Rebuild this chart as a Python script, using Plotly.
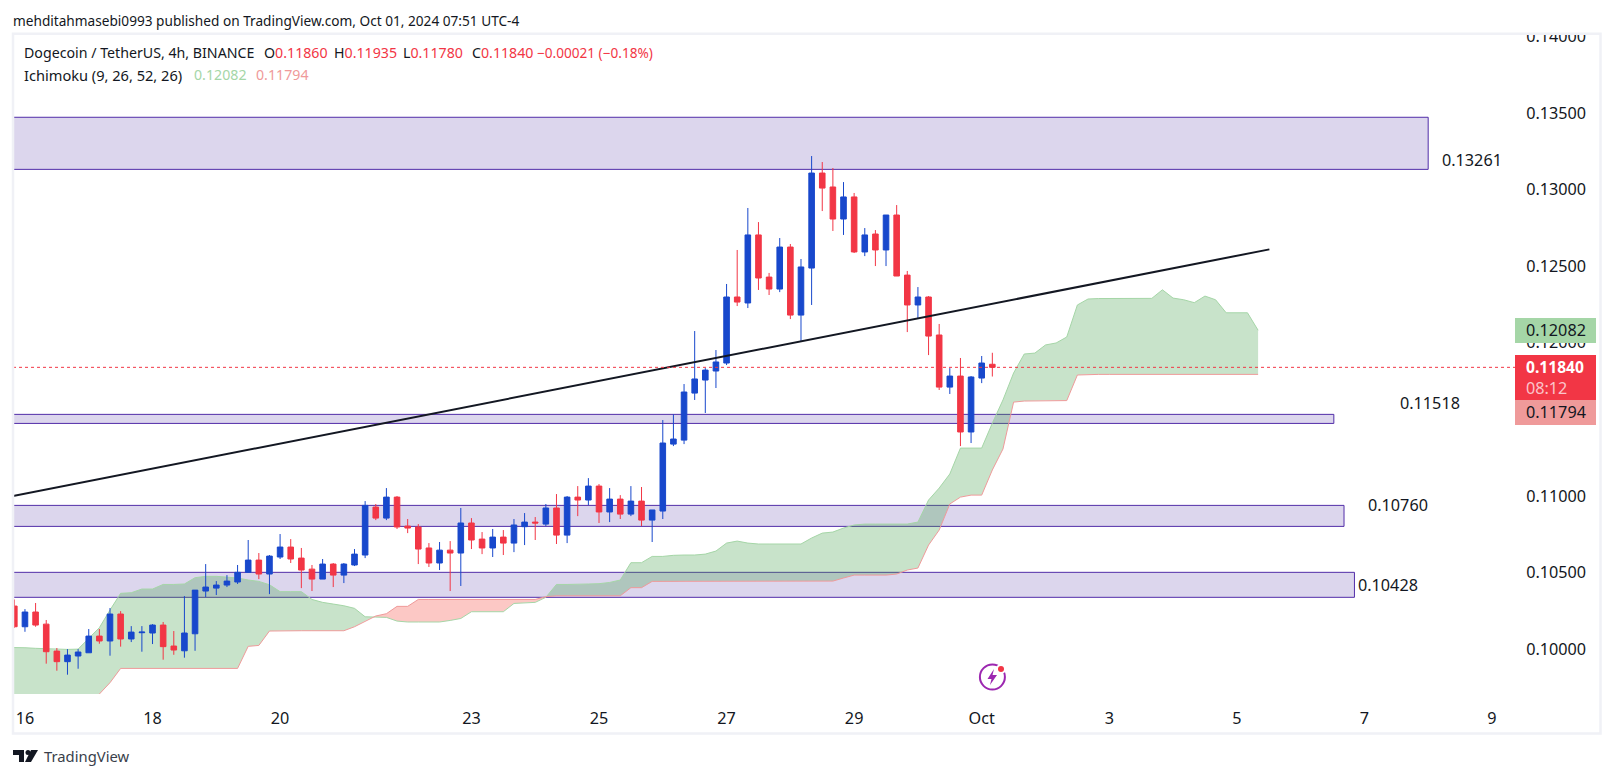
import numpy as np
import pandas as pd
import plotly.graph_objects as go

# ---------- data ----------
opens = [.10282,.10147,.10243,.10164,.09988,.09919,.09956,.09977,.10086,.10054,.10230,.10067,.10108,.10106,.10158,.10021,.09990,.10101,.10380,.10399,.10419,.10439,.10502,.10582,.10491,.10602,.10667,.10595,.10523,.10458,.10556,.10484,.10550,.10615,.10928,.10856,.10993,.10804,.10798,.10661,.10563,.10647,.10628,.10824,.10719,.10661,.10732,.10693,.10800,.10830,.10817,.10922,.10745,.10993,.10974,.11065,.10896,.10980,.10882,.10967,.10843,.10902,.11339,.11365,.11672,.11757,.11816,.11868,.12299,.12260,.12704,.12429,.12351,.12625,.12181,.12488,.13108,.13017,.12808,.12952,.12593,.12710,.12606,.12834,.12442,.12247,.12299,.12051,.11711,.11783,.11418,.11770,.11860]
highs = [.10325,.10262,.10302,.10191,.10008,.10001,.10001,.10132,.10132,.10269,.10249,.10151,.10151,.10164,.10178,.10119,.10347,.10386,.10556,.10445,.10484,.10550,.10713,.10628,.10615,.10752,.10719,.10661,.10550,.10589,.10563,.10563,.10654,.10967,.10948,.11052,.11000,.10850,.10817,.10693,.10700,.10706,.10922,.10856,.10765,.10785,.10778,.10850,.10889,.10863,.10948,.11013,.11000,.11065,.11117,.11078,.11052,.11006,.11065,.11059,.10909,.11496,.11533,.11731,.12077,.11835,.11953,.12384,.12606,.12880,.12788,.12456,.12684,.12645,.12547,.13219,.13180,.13141,.13049,.12978,.12749,.12736,.12834,.12899,.12469,.12364,.12305,.12123,.11835,.11901,.11783,.11914,.11935]
lows = [.10140,.10114,.10147,.09906,.09860,.09834,.09873,.09977,.10036,.09958,.10017,.10047,.09984,.10034,.09932,.09964,.09945,.09990,.10341,.10354,.10406,.10426,.10502,.10458,.10360,.10589,.10563,.10399,.10380,.10458,.10406,.10432,.10543,.10595,.10843,.10843,.10785,.10758,.10556,.10537,.10517,.10380,.10413,.10654,.10621,.10602,.10615,.10634,.10680,.10713,.10804,.10687,.10693,.10869,.10941,.10824,.10830,.10850,.10869,.10804,.10700,.10850,.11326,.11339,.11627,.11542,.11705,.11855,.12240,.12227,.12345,.12312,.12331,.12155,.12012,.12247,.12860,.12730,.12704,.12586,.12566,.12501,.12501,.12436,.12070,.12162,.11920,.11692,.11666,.11326,.11346,.11737,.11780]
closes = [.10147,.10243,.10158,.09984,.09919,.09962,.09982,.10086,.10054,.10230,.10067,.10112,.10112,.10158,.10017,.09995,.10106,.10386,.10406,.10419,.10445,.10502,.10582,.10491,.10608,.10667,.10589,.10517,.10458,.10556,.10484,.10556,.10621,.10939,.10856,.10993,.10798,.10791,.10654,.10563,.10647,.10628,.10824,.10713,.10661,.10732,.10693,.10811,.10830,.10824,.10922,.10745,.10993,.10974,.11065,.10896,.10980,.10882,.10967,.10843,.10909,.11346,.11372,.11679,.11764,.11822,.11875,.12299,.12266,.12704,.12423,.12351,.12625,.12181,.12495,.13108,.13010,.12808,.12952,.12593,.12704,.12606,.12834,.12436,.12247,.12299,.12044,.11711,.11783,.11418,.11777,.11868,.11840]

span_a = [.10012,.10012,.10010,.10006,.10003,.09999,.09999,.10001,.10071,.10141,.10256,.10365,.10369,.10393,.10393,.10423,.10423,.10426,.10467,.10476,.10476,.10471,.10465,.10452,.10443,.10421,.10376,.10376,.10376,.10325,.10306,.10295,.10284,.10267,.10212,.10210,.10208,.10184,.10178,.10178,.10178,.10178,.10188,.10201,.10245,.10245,.10245,.10245,.10299,.10304,.10306,.10339,.10423,.10423,.10423,.10426,.10428,.10436,.10452,.10565,.10565,.10606,.10606,.10613,.10615,.10615,.10621,.10641,.10693,.10706,.10693,.10687,.10687,.10687,.10687,.10687,.10726,.10758,.10765,.10791,.10811,.10817,.10817,.10817,.10817,.10817,.10830,.10974,.11052,.11144,.11313,.11313,.11313,.11476,.11627,.11803,.11927,.11933,.11986,.11999,.12038,.12247,.12286,.12289,.12289,.12289,.12289,.12289,.12290,.12346,.12292,.12281,.12262,.12305,.12281,.12196,.12196,.12196,.12082]
span_b = [.09600,.09600,.09600,.09600,.09600,.09600,.09600,.09600,.09600,.09708,.09782,.09875,.09875,.09875,.09875,.09875,.09875,.09875,.09875,.09875,.09875,.09875,.09875,.10019,.10025,.10119,.10121,.10121,.10121,.10121,.10121,.10121,.10121,.10147,.10184,.10217,.10232,.10280,.10280,.10325,.10325,.10325,.10325,.10325,.10325,.10325,.10325,.10325,.10325,.10325,.10325,.10343,.10349,.10349,.10349,.10349,.10349,.10349,.10349,.10402,.10402,.10443,.10443,.10443,.10445,.10445,.10445,.10445,.10445,.10445,.10445,.10445,.10445,.10445,.10445,.10445,.10445,.10445,.10445,.10465,.10484,.10484,.10484,.10484,.10491,.10517,.10530,.10680,.10778,.10948,.10993,.11006,.11006,.11170,.11307,.11613,.11620,.11622,.11623,.11623,.11623,.11790,.11794,.11794,.11794,.11794,.11794,.11794,.11794,.11794,.11794,.11794,.11794,.11794,.11794,.11794,.11794,.11794,.11794]
span_b = span_b[:len(span_a)]

tick_dates = ["2024-09-16","2024-09-18","2024-09-20","2024-09-23","2024-09-25","2024-09-27","2024-09-29","2024-10-01","2024-10-03","2024-10-05","2024-10-07","2024-10-09"]
tick_text = ["16","18","20","23","25","27","29","Oct","3","5","7","9"]
price_ticks = [0.10,0.105,0.11,0.12,0.125,0.13,0.135,0.14]

# zones: right end date, top price, bottom price
zones = [("2024-10-08 00:00",.13472,.13132),
         ("2024-10-06 12:30",.11533,.11474),
         ("2024-10-06 16:20",.10939,.10802),
         ("2024-10-06 20:15",.10502,.10339)]
trend_x = ["2024-09-15 19:30","2024-10-05 12:15"]
trend_y = [.11000,.12610]
last_price = 0.1184

# ---------- geometry ----------
W,H = 1614,778
L,R,T,B = 13,1515,35,694
def px(x): return (x-L)/(R-L)
def py(y): return (B-y)/(B-T)

x_range = ["2024-09-15 19:30","2024-10-09 08:40"]
y_range = [0.09708,0.14009]

FONT = "Noto Sans"
INK = "#131722"
BLUE,RED = "#1848CC","#F23645"

candle_dates = pd.date_range("2024-09-15 20:00",periods=len(opens),freq="4h")
cloud_dates = pd.date_range("2024-09-15 16:00",periods=len(span_a),freq="4h")

# insert span crossing points so both fills meet exactly there
t = cloud_dates.astype("datetime64[ns]").astype("int64").to_numpy().astype(float)
a = np.array(span_a); b = np.array(span_b)
tt,aa,bb = [t[0]],[a[0]],[b[0]]
for i in range(1,len(t)):
    d0,d1 = a[i-1]-b[i-1],a[i]-b[i]
    if d0*d1<0:
        f = d0/(d0-d1)
        v = a[i-1]+f*(a[i]-a[i-1])
        tt.append(t[i-1]+f*(t[i]-t[i-1])); aa.append(v); bb.append(v)
    tt.append(t[i]); aa.append(a[i]); bb.append(b[i])
xc = pd.to_datetime(np.array(tt).astype("int64"))
aa,bb = np.array(aa),np.array(bb)
upper = np.maximum(aa,bb)
xp = list(xc)+list(xc[::-1])

fig = go.Figure()
fig.add_trace(go.Scatter(x=xp,y=list(upper)+list(bb[::-1]),fill="toself",mode="none",
                         fillcolor="rgba(67,160,71,0.29)",hoverinfo="skip",showlegend=False))
fig.add_trace(go.Scatter(x=xp,y=list(upper)+list(aa[::-1]),fill="toself",mode="none",
                         fillcolor="rgba(244,67,54,0.29)",hoverinfo="skip",showlegend=False))
fig.add_trace(go.Scatter(x=cloud_dates,y=span_a,mode="lines",line=dict(color="#A5D6A7",width=1),hoverinfo="skip",showlegend=False))
fig.add_trace(go.Scatter(x=cloud_dates,y=span_b,mode="lines",line=dict(color="#EF9A9A",width=1),hoverinfo="skip",showlegend=False))
fig.add_trace(go.Candlestick(x=candle_dates,open=opens,high=highs,low=lows,close=closes,
    xaxis="x2",yaxis="y2",whiskerwidth=0,showlegend=False,
    increasing=dict(line=dict(color=BLUE,width=1),fillcolor=BLUE),
    decreasing=dict(line=dict(color=RED,width=1),fillcolor=RED)))

shapes = []
for right,top,bot in zones:
    shapes.append(dict(type="rect",xref="x",yref="y",x0="2024-09-01",x1=right,y0=bot,y1=top,layer="below",
                       fillcolor="#DCD6ED",line=dict(color="#512DA8",width=1)))
shapes.append(dict(type="line",xref="x",yref="y",x0=trend_x[0],x1=trend_x[1],y0=trend_y[0],y1=trend_y[1],
                   layer="above",line=dict(color=INK,width=2)))
shapes.append(dict(type="line",xref="paper",yref="y",x0=0,x1=1,y0=last_price,y1=last_price,layer="above",
                   line=dict(color=RED,width=1,dash="dot")))

def prect(x0,y0,x1,y1,fill,line=None):
    return dict(type="rect",xref="paper",yref="paper",x0=px(x0),x1=px(x1),y0=py(y1),y1=py(y0),layer="above",
                fillcolor=fill,line=line or dict(width=0))
def ppath(points,fill=None,line=None):
    d = "M"+" L".join(f"{px(x):.5f},{py(y):.5f}" for x,y in points)+(" Z" if fill else "")
    return dict(type="path",xref="paper",yref="paper",path=d,layer="above",
                fillcolor=fill or "rgba(0,0,0,0)",line=line or dict(width=0))

# mask over the clipped top tick label, and the frame
shapes.append(prect(1500,0,1614,35,"#FFFFFF"))
shapes.append(prect(13,33.8,1600.5,733.5,"rgba(0,0,0,0)",dict(color="#F0F1F6",width=2.5)))
# last value boxes
shapes.append(prect(1515,318,1596,343,"#A5D6A7"))
shapes.append(prect(1515,355,1596,400,RED))
shapes.append(prect(1515,400,1596,425,"#EF9A9A"))
# event icon
cx,cy,r = 992.4,677,12.5
shapes.append(dict(type="circle",xref="paper",yref="paper",x0=px(cx-r),x1=px(cx+r),y0=py(cy+r),y1=py(cy-r),
                   layer="above",line=dict(color="#9C27B0",width=2),fillcolor="#FFFFFF"))
shapes.append(dict(type="circle",xref="paper",yref="paper",x0=px(996),x1=px(1006),y0=py(674),y1=py(664),
                   layer="above",line=dict(width=0),fillcolor="#FFFFFF"))
shapes.append(dict(type="circle",xref="paper",yref="paper",x0=px(998),x1=px(1004),y0=py(672),y1=py(666),
                   layer="above",line=dict(width=0),fillcolor="#F23645"))
shapes.append(ppath([(994,669),(987.5,679),(991.5,679),(990,685),(997,675),(992.5,675)],fill="#9C27B0"))
# TradingView logo
shapes.append(ppath([(13,750),(24,750),(24,762),(19,762),(19,755),(13,755)],fill=INK))
shapes.append(dict(type="circle",xref="paper",yref="paper",x0=px(25.5),x1=px(30.5),y0=py(755),y1=py(750),
                   layer="above",line=dict(width=0),fillcolor=INK))
shapes.append(ppath([(31,750),(38,750),(31,762),(25,762)],fill=INK))

def note(text,x,y,size,color=INK,anchor="left",family=FONT):
    return dict(text=text,x=px(x),y=py(y),xref="paper",yref="paper",showarrow=False,xanchor=anchor,yanchor="middle",
                font=dict(size=size,color=color,family=family),align="left")

def red(s): return f"<span style='color:{RED}'>{s}</span>"
SZ = 14.2
VAL = 16.2
annotations = [
    note("mehditahmasebi0993 published on TradingView.com, Oct 01, 2024 07:51 UTC-4",11,20,13.65),
    note("Dogecoin / TetherUS, 4h, BINANCE",21.5,53,SZ),
    note("O"+red("0.11860"),262,53,SZ),
    note("H"+red("0.11935"),331.5,53,SZ),
    note("L"+red("0.11780"),400.5,53,SZ),
    note("C"+red("0.11840"),469.5,53,SZ),
    note(red("−0.00021 (−0.18%)"),535,53,13.6),
    note("Ichimoku (9, 26, 52, 26)",21.5,74.5,14.6),
    note("<span style='color:#A5D6A7'>0.12082</span>",191.5,74.5,SZ),
    note("<span style='color:#EF9A9A'>0.11794</span>",253.5,74.5,SZ),
    note("0.13261",1440,160,VAL),
    note("0.11518",1398,402.7,VAL),
    note("0.10760",1366,505,VAL),
    note("0.10428",1355.5,584.6,VAL),
    note("0.12082",1524,330.5,VAL),
    note("<b>0.11840</b>",1524,367,VAL-0.6,"#FFFFFF"),
    note("08:12",1524,388,VAL,"#FBC4CA"),
    note("0.11794",1524,412.5,VAL),
    note("TradingView",42,756,14.8,"#3A3F4B"),
]

axis_font = dict(size=VAL,color=INK,family=FONT)
fig.update_layout(
    width=W,height=H,autosize=False,
    margin=dict(l=L,r=W-R,t=T,b=H-B,pad=0),
    paper_bgcolor="#FFFFFF",plot_bgcolor="#FFFFFF",
    showlegend=False,boxgap=0.25,hovermode=False,
    shapes=shapes,annotations=annotations,
    xaxis=dict(type="date",range=x_range,tickmode="array",tickvals=tick_dates,ticktext=tick_text,
               showgrid=False,zeroline=False,showline=False,ticks="outside",ticklen=10,tickcolor="#FFFFFF",
               tickfont=axis_font,rangeslider=dict(visible=False)),
    yaxis=dict(range=y_range,side="right",tickmode="array",tickvals=price_ticks,tickformat=".5f",
               showgrid=False,zeroline=False,showline=False,ticks="outside",ticklen=7,tickcolor="#FFFFFF",
               tickfont=axis_font),
    xaxis2=dict(type="date",range=x_range,overlaying="x",visible=False,rangeslider=dict(visible=False)),
    yaxis2=dict(range=y_range,overlaying="y",side="right",visible=False),
)
fig.write_html("out.html",config=dict(displayModeBar=False,staticPlot=True),
               post_script="document.body.style.margin='0';document.body.style.overflow='hidden';")
